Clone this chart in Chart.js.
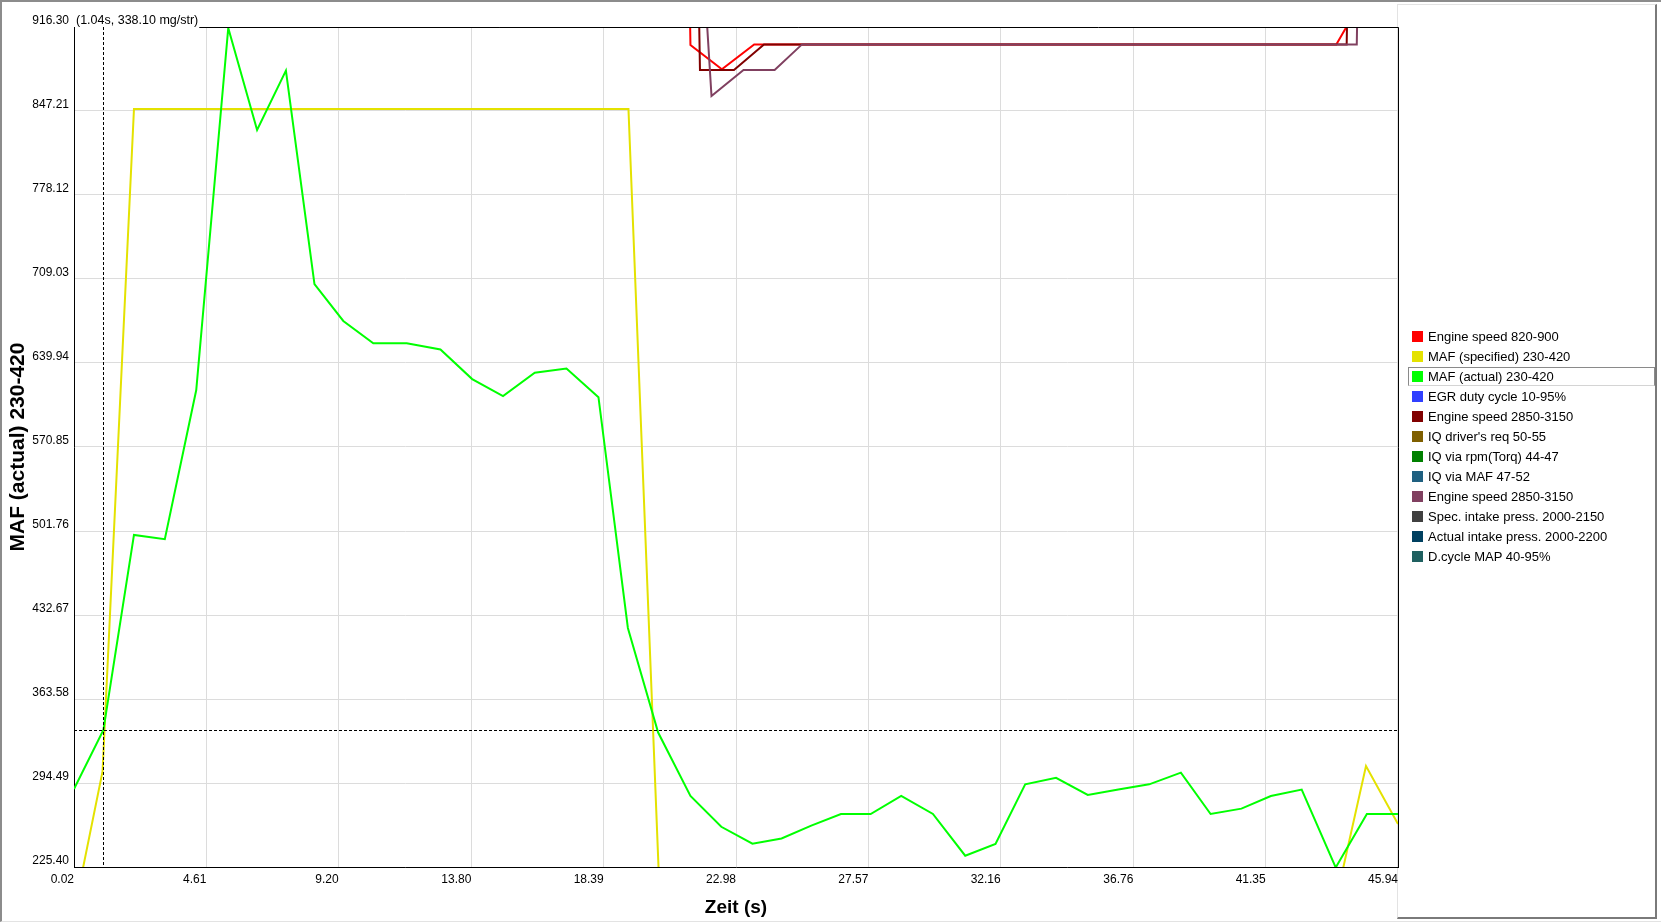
<!DOCTYPE html>
<html>
<head>
<meta charset="utf-8">
<script src="https://cdn.jsdelivr.net/npm/chart.js@4.4.0/dist/chart.umd.min.js"></script>
<style>
    html, body { margin: 0; padding: 0; background: #fff; }
    body { width: 1661px; height: 923px; position: relative; overflow: hidden; font-family: "Liberation Sans", Arial, sans-serif; }
    #frame { position: absolute; left: 0; top: 0; width: 1661px; height: 922px; box-sizing: border-box;
             border-top: 2px solid #8c8c8c; border-left: 2px solid #8c8c8c; border-bottom: 1px solid #e3e3e3; }
    #legendPanel { position: absolute; left: 1397px; top: 4px; width: 260px; height: 915px; box-sizing: border-box;
                   border-left: 1px solid #e3e3e3; border-top: 1px solid #e3e3e3;
                   border-right: 2px solid #7a7a7a; border-bottom: 2px solid #7a7a7a; }
    #chartBox { position: absolute; left: 0; top: 0; width: 1661px; height: 923px; }
    .legend-item { position: absolute; left: 1408px; width: 247px; height: 19px; box-sizing: border-box;
                   font-size: 13px; line-height: 19px; color: #000; white-space: nowrap; }
    .legend-item.selected { border: 1px solid #8a8a8a; border-bottom-color: #d4d4d4; }
    .legend-item .swatch { position: absolute; left: 4px; top: 4px; width: 11px; height: 11px; }
    .legend-item.selected .swatch { left: 3px; top: 3px; }
    .legend-item .txt { position: absolute; left: 20px; top: 0; }
    .legend-item.selected .txt { left: 19px; top: -1px; }
</style>
</head>
<body>
<div id="frame"></div>
<div id="legendPanel"></div>
<div id="chartBox"><canvas id="logChart"></canvas></div>
<div id="legend"></div>
<script>
// Axis ticks
const xTicks = [0.02, 4.61, 9.20, 13.80, 18.39, 22.98, 27.57, 32.16, 36.76, 41.35, 45.94];
const yTicks = [225.40, 294.49, 363.58, 432.67, 501.76, 570.85, 639.94, 709.03, 778.12, 847.21, 916.30];

// Cursor position (shown as crosshair)
const cursorTime = 1.04;
const cursorValue = 338.10;

// Channels
const seriesLabels = [
    'Engine speed 820-900',
    'MAF (specified) 230-420',
    'MAF (actual) 230-420',
    'EGR duty cycle 10-95%',
    'Engine speed 2850-3150',
    "IQ driver's req 50-55",
    'IQ via rpm(Torq) 44-47',
    'IQ via MAF 47-52',
    'Engine speed 2850-3150',
    'Spec. intake press. 2000-2150',
    'Actual intake press. 2000-2200',
    'D.cycle MAP 40-95%'
];
const seriesColors = [
    '#ff0000', '#e4e200', '#00ff00', '#3040ff', '#800000', '#7f5f00',
    '#008000', '#1f6080', '#804060', '#404040', '#004060', '#1f6060'
];
const selectedSeries = 2;

// Engine speed 820-900
const rpmIdleTimes  = [20.35, 21.40, 22.49, 23.61, 43.80, 44.88, 45.94];
const rpmIdleValues = [2400, 901.5, 881.5, 902.0, 902.0, 946.0, 990.0];

// MAF (specified)
const mafSpecTimes  = [0.02, 1.01, 2.10, 19.25, 20.30, 43.74, 44.83, 45.94];
const mafSpecValues = [188.0, 304.0, 848.9, 848.9, 221.0, 193.0, 308.4, 260.8];

// MAF (actual)
const mafActTimes = [0.02, 1.04, 2.10, 3.17, 4.26, 5.37, 6.37, 7.37, 8.36, 9.36, 10.40, 11.56,
    12.73, 13.83, 14.90, 16.00, 17.10, 18.21, 19.23, 20.28, 21.40, 22.47, 23.55, 24.56, 25.59,
    26.62, 27.65, 28.71, 29.81, 30.93, 31.98, 33.01, 34.08, 35.18, 36.24, 37.31, 38.41, 39.44,
    40.51, 41.53, 42.60, 43.78, 44.86, 45.94];
const mafActValues = [289.6, 338.1, 498.5, 495.0, 617.7, 915.5, 831.6, 880.4, 704.9, 674.5, 656.1, 656.1,
    651.1, 626.7, 612.7, 631.9, 635.4, 611.8, 422.0, 336.0, 283.8, 258.5, 244.6, 248.9, 259.4,
    269.0, 269.0, 283.8, 269.0, 234.7, 244.3, 293.4, 298.7, 284.7, 289.1, 293.4, 303.0, 269.0,
    273.4, 283.8, 289.1, 225.0, 269.0, 269.0];

// Engine speed 2850-3150 (first)
const rpmHighTimes  = [20.66, 21.73, 22.91, 23.95, 44.16, 45.23];
const rpmHighValues = [2400, 880.9, 880.9, 902.0, 902.0, 2400];

// Engine speed 2850-3150 (second)
const rpmHigh2Times  = [21.06, 22.13, 23.24, 24.32, 25.27, 44.51, 45.58];
const rpmHigh2Values = [1270, 859.5, 880.9, 880.9, 902.0, 902.0, 2400];

const seriesData = [
    [rpmIdleTimes, rpmIdleValues],
    [mafSpecTimes, mafSpecValues],
    [mafActTimes, mafActValues],
    [[], []],
    [rpmHighTimes, rpmHighValues],
    [[], []],
    [[], []],
    [[], []],
    [rpmHigh2Times, rpmHigh2Values],
    [[], []],
    [[], []],
    [[], []]
];

const FONT = '"Liberation Sans", Arial, sans-serif';
Chart.defaults.font.family = FONT;
Chart.defaults.color = '#000';

// crosshair, label and missing frame edges
const overlayPlugin = {
    id: 'overlay',
    afterDatasetsDraw(chart) {
        const { ctx, chartArea: a, scales: { x, y } } = chart;
        ctx.save();
        ctx.strokeStyle = '#000';
        ctx.lineWidth = 1;

        const cx = Math.round(x.getPixelForValue(cursorTime)) + 0.5;
        const cy = Math.round(y.getPixelForValue(cursorValue)) + 0.5;
        ctx.setLineDash([3, 2]);
        ctx.beginPath();
        ctx.moveTo(cx, a.top);
        ctx.lineTo(cx, a.bottom);
        ctx.moveTo(a.left, cy);
        ctx.lineTo(a.right, cy);
        ctx.stroke();
        ctx.setLineDash([]);

        const label = '(' + cursorTime.toFixed(2) + 's, ' + cursorValue.toFixed(2) + ' mg/str)';
        ctx.font = '12.5px ' + FONT;
        ctx.fillStyle = '#000';
        ctx.textBaseline = 'middle';
        ctx.textAlign = 'left';
        ctx.fillText(label, a.left + 2, a.top - 6);
        const w = ctx.measureText(label).width;

        const top = Math.round(a.top) + 0.5;
        const right = Math.round(a.right) + 0.5;
        ctx.beginPath();
        ctx.moveTo(a.left + 2 + w + 1, top);
        ctx.lineTo(right, top);
        ctx.lineTo(right, a.bottom);
        ctx.stroke();
        ctx.restore();
    }
};

const chart = new Chart(document.getElementById('logChart'), {
    type: 'line',
    data: {
        datasets: seriesLabels.map((label, i) => ({
            label: label,
            data: seriesData[i][0].map((t, k) => ({ x: t, y: seriesData[i][1][k] })),
            borderColor: seriesColors[i],
            backgroundColor: seriesColors[i],
            borderWidth: 2,
            pointRadius: 0,
            tension: 0,
            fill: false,
            order: -i
        }))
    },
    options: {
        responsive: true,
        maintainAspectRatio: false,
        animation: false,
        events: [],
        layout: { padding: { left: 0, top: 27, right: 263, bottom: 0 } },
        plugins: {
            legend: { display: false },
            tooltip: { enabled: false }
        },
        scales: {
            x: {
                type: 'linear',
                min: xTicks[0],
                max: xTicks[xTicks.length - 1],
                afterBuildTicks: axis => { axis.ticks = xTicks.map(v => ({ value: v })); },
                afterFit: axis => { axis.height = 56; },
                grid: { color: '#dcdcdc', drawTicks: false },
                border: { color: '#000', width: 1 },
                ticks: {
                    align: 'end',
                    padding: 5,
                    maxRotation: 0,
                    autoSkip: false,
                    font: { size: 12 },
                    callback: v => v.toFixed(2)
                },
                title: {
                    display: true,
                    text: 'Zeit (s)',
                    font: { size: 19, weight: 'bold' },
                    padding: { top: 0, bottom: 4 }
                }
            },
            y: {
                type: 'linear',
                min: yTicks[0],
                max: yTicks[yTicks.length - 1],
                afterBuildTicks: axis => { axis.ticks = yTicks.map(v => ({ value: v })); },
                afterFit: axis => { axis.width = 74; },
                grid: {
                    drawTicks: false,
                    color: c => (c.tick && c.tick.value === yTicks[yTicks.length - 1]) ? 'rgba(0,0,0,0)' : '#dcdcdc'
                },
                border: { color: '#000', width: 1 },
                ticks: {
                    padding: 5,
                    labelOffset: -6.5,
                    autoSkip: false,
                    font: { size: 12 },
                    callback: v => v.toFixed(2)
                },
                title: {
                    display: true,
                    text: 'MAF (actual) 230-420',
                    font: { size: 21, weight: 'bold' },
                    padding: { top: 6, bottom: 0 }
                }
            }
        }
    },
    plugins: [overlayPlugin]
});

// Legend list on the right panel
const legendBox = document.getElementById('legend');
chart.data.datasets.forEach((ds, i) => {
    const item = document.createElement('div');
    item.className = 'legend-item' + (i === selectedSeries ? ' selected' : '');
    item.style.top = (327 + i * 20) + 'px';
    const sw = document.createElement('span');
    sw.className = 'swatch';
    sw.style.backgroundColor = ds.borderColor;
    const txt = document.createElement('span');
    txt.className = 'txt';
    txt.textContent = ds.label;
    item.appendChild(sw);
    item.appendChild(txt);
    legendBox.appendChild(item);
});
</script>
</body>
</html>
